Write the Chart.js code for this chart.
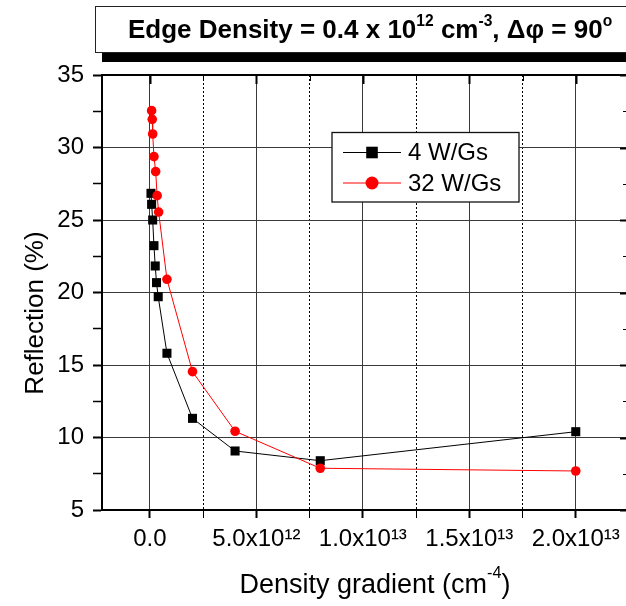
<!DOCTYPE html>
<html>
<head>
<meta charset="utf-8">
<script src="https://cdn.jsdelivr.net/npm/chart.js@4.4.1/dist/chart.umd.min.js"></script>
<style>
html,body{margin:0;padding:0;background:#fff;overflow:hidden;}
#wrap{position:relative;width:626px;height:606px;overflow:hidden;font-family:Arial,"Liberation Sans",sans-serif;color:#000;}
#c{position:absolute;left:0;top:0;}
#title{position:absolute;left:95px;top:6px;width:600px;height:45px;border:1px solid #222;background:#fff;box-shadow:7px 9px 0 #000;font-weight:bold;font-size:26px;line-height:44.6px;white-space:nowrap;z-index:2;}
#title .t{position:absolute;left:32px;top:0;}
.sup{font-size:60%;position:relative;top:-0.8em;vertical-align:baseline;line-height:0;}
#ytitle{position:absolute;left:-86.3px;top:298px;width:240px;height:30px;line-height:30px;font-size:26px;text-align:center;white-space:nowrap;transform:rotate(-90deg);z-index:2;}
#xtitle{position:absolute;left:175px;top:568px;width:400px;height:32px;line-height:32px;font-size:27px;text-align:center;white-space:nowrap;z-index:2;}
#xtitle .sup{top:-0.95em;}
</style>
</head>
<body>
<div id="wrap">
  <canvas id="c" width="640" height="606" style="width:640px;height:606px"></canvas>
  <div id="title"><span class="t">Edge Density = 0.4 x 10<span class="sup">12</span> cm<span class="sup">-3</span>, Δφ = 90<span class="sup">o</span></span></div>
  <div id="ytitle">Reflection (%)</div>
  <div id="xtitle">Density gradient (cm<span class="sup">-4</span>)</div>
</div>
<script>
// ---- data ----
const seriesNames = ['4 W/Gs', '32 W/Gs'];
const gradient4 = [0.05e12, 0.08e12, 0.13e12, 0.19e12, 0.25e12, 0.31e12, 0.39e12, 0.80e12, 2.0e12, 4.0e12, 8.0e12, 2.0e13];
const reflection4 = [26.84, 26.08, 25.0, 23.23, 21.83, 20.68, 19.71, 15.81, 11.32, 9.07, 8.40, 10.40];
const gradient32 = [0.08e12, 0.11e12, 0.13e12, 0.19e12, 0.27e12, 0.34e12, 0.41e12, 0.80e12, 2.0e12, 4.0e12, 8.0e12, 2.0e13];
const reflection32 = [32.54, 31.94, 30.93, 29.37, 28.34, 26.68, 25.55, 20.91, 14.54, 10.43, 7.88, 7.69];
const xTickValues = [0, 5e12, 1e13, 1.5e13, 2e13];
const xTickLabels = ['0.0', '5.0x10¹²', '1.0x10¹³', '1.5x10¹³', '2.0x10¹³'];
const xMinorTicks = [2.5e12, 7.5e12, 1.25e13, 1.75e13];
const yTickValues = [5, 10, 15, 20, 25, 30, 35];
const yMinorTicks = [7.5, 12.5, 17.5, 22.5, 27.5, 32.5];

const FONT = 'Arial, "Liberation Sans", sans-serif';
const toPts = (xs, ys) => xs.map((v, i) => ({x: v, y: ys[i]}));
const isXMajor = v => xTickValues.includes(v);
const isYMajor = v => yTickValues.includes(v);

const framePlugin = {
  id: 'frame',
  afterDraw(chart) {
    const {ctx, chartArea: a, scales} = chart;
    const xs = scales.x, ys = scales.y;
    ctx.save();
    ctx.strokeStyle = '#000';
    // top and right frame
    ctx.lineWidth = 2;
    ctx.beginPath();
    ctx.moveTo(a.left - 1, a.top);
    ctx.lineTo(a.right, a.top);
    ctx.lineTo(a.right, a.bottom + 1);
    ctx.stroke();
    // inward ticks on top axis
    xTickValues.concat(xMinorTicks).forEach(v => {
      const px = Math.round(xs.getPixelForValue(v)) + 0.5;
      ctx.lineWidth = isXMajor(v) ? 2 : 1;
      ctx.beginPath();
      ctx.moveTo(px, a.top);
      ctx.lineTo(px, a.top + (isXMajor(v) ? 9 : 6));
      ctx.stroke();
    });
    // inward ticks on right axis
    yTickValues.concat(yMinorTicks).forEach(v => {
      const py = Math.round(ys.getPixelForValue(v)) + 0.5;
      ctx.lineWidth = isYMajor(v) ? 2 : 1;
      ctx.beginPath();
      ctx.moveTo(a.right, py);
      ctx.lineTo(a.right - (isYMajor(v) ? 9 : 6), py);
      ctx.stroke();
    });
    // legend
    const lx = 332, ly = 132.5, lw = 187, lh = 69.5;
    ctx.fillStyle = '#fff';
    ctx.fillRect(lx, ly, lw, lh);
    ctx.lineWidth = 1.3;
    ctx.strokeStyle = '#111';
    ctx.strokeRect(lx, ly, lw, lh);
    const rows = [152.5, 183];
    chart.data.datasets.forEach((ds, i) => {
      const yy = rows[i];
      ctx.strokeStyle = ds.borderColor;
      ctx.lineWidth = 1;
      ctx.beginPath();
      ctx.moveTo(343, yy); ctx.lineTo(401, yy);
      ctx.stroke();
      ctx.fillStyle = ds.pointBackgroundColor;
      ctx.beginPath();
      if (ds.pointStyle === 'rect') {
        ctx.rect(372 - 5.8, yy - 5.8, 11.6, 11.6);
      } else {
        ctx.arc(372, yy, 6.5, 0, Math.PI * 2);
      }
      ctx.fill();
      ctx.fillStyle = '#000';
      ctx.font = '24px ' + FONT;
      ctx.textBaseline = 'middle';
      ctx.textAlign = 'left';
      ctx.fillText(ds.label, 408, yy + 1);
    });
    ctx.restore();
  }
};

new Chart(document.getElementById('c'), {
  type: 'line',
  data: {
    datasets: [
      {
        label: seriesNames[0],
        data: toPts(gradient4, reflection4),
        borderColor: '#000000',
        borderWidth: 1,
        pointStyle: 'rect',
        pointRadius: 6.4,
        pointBorderWidth: 0,
        pointBackgroundColor: '#000000',
        tension: 0,
        order: 2
      },
      {
        label: seriesNames[1],
        data: toPts(gradient32, reflection32),
        borderColor: '#ff0000',
        borderWidth: 1,
        pointStyle: 'circle',
        pointRadius: 4.8,
        pointBorderWidth: 0,
        pointBackgroundColor: '#ff0000',
        tension: 0,
        order: 1
      }
    ]
  },
  options: {
    responsive: false,
    animation: false,
    devicePixelRatio: 1,
    layout: {autoPadding: false, padding: {left: 0, top: 75, right: 11, bottom: 0}},
    plugins: {legend: {display: false}, tooltip: {enabled: false}, title: {display: false}},
    scales: {
      x: {
        type: 'linear',
        min: -2.25e12,
        max: 2.25e13,
        afterBuildTicks: s => { s.ticks = xTickValues.concat(xMinorTicks).sort((p, q) => p - q).map(v => ({value: v})); },
        afterFit: s => { s.height = 96; },
        ticks: {
          autoSkip: false,
          maxRotation: 0,
          padding: 7,
          color: '#000',
          font: {size: 24, family: FONT},
          callback: v => { const i = xTickValues.indexOf(v); return i >= 0 ? xTickLabels[i] : ''; }
        },
        grid: {
          color: c => (c.tick && isXMajor(c.tick.value)) ? '#3a3a3a' : '#000',
          lineWidth: 1,
          tickLength: 8,
          tickColor: '#000',
          tickWidth: c => (c.tick && isXMajor(c.tick.value)) ? 2 : 1
        },
        border: {
          color: '#000',
          width: 2,
          dash: c => (c.tick && !isXMajor(c.tick.value)) ? [2, 2] : []
        }
      },
      y: {
        type: 'linear',
        min: 5,
        max: 35,
        afterBuildTicks: s => { s.ticks = yTickValues.concat(yMinorTicks).sort((p, q) => p - q).map(v => ({value: v})); },
        afterFit: s => { s.width = 102; },
        ticks: {
          autoSkip: false,
          padding: 9,
          color: '#000',
          font: {size: 24, family: FONT},
          callback: v => isYMajor(v) ? String(v) : ''
        },
        grid: {
          color: c => (c.tick && isYMajor(c.tick.value) && c.tick.value > 5 && c.tick.value < 35) ? '#3a3a3a' : 'rgba(0,0,0,0)',
          lineWidth: 1,
          tickLength: 9,
          tickColor: '#000',
          tickWidth: c => (c.tick && isYMajor(c.tick.value)) ? 2 : 1.5
        },
        border: {color: '#000', width: 2}
      }
    }
  },
  plugins: [framePlugin]
});
</script>
</body>
</html>
